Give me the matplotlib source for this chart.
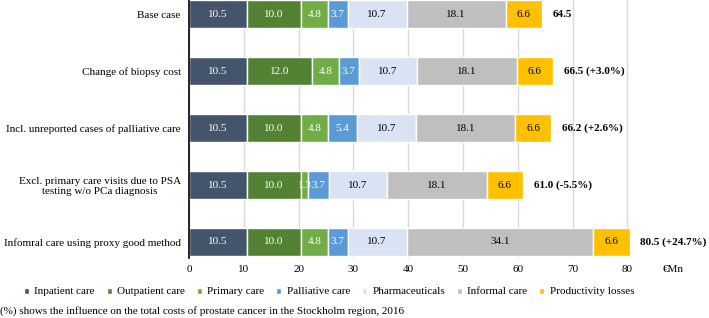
import matplotlib
matplotlib.use("Agg")
import matplotlib.pyplot as plt
import numpy as np

plt.rcParams['font.family'] = ['Liberation Serif', 'DejaVu Serif']

scenarios = [
    "Base case",
    "Change of biopsy cost",
    "Incl. unreported cases of palliative care",
    "Excl. primary care visits due to PSA\ntesting w/o PCa diagnosis",
    "Infomral care using proxy good method",
]
categories = ["Inpatient care", "Outpatient care", "Primary care", "Palliative care",
              "Pharmaceuticals", "Informal care", "Productivity losses"]
inpatient = [10.5, 10.5, 10.5, 10.5, 10.5]
outpatient = [10.0, 12.0, 10.0, 10.0, 10.0]
primary = [4.8, 4.8, 4.8, 1.3, 4.8]
palliative = [3.7, 3.7, 5.4, 3.7, 3.7]
pharma = [10.7, 10.7, 10.7, 10.7, 10.7]
informal = [18.1, 18.1, 18.1, 18.1, 34.1]
productivity = [6.6, 6.6, 6.6, 6.6, 6.6]
totals = ["64.5", "66.5 (+3.0%)", "66.2 (+2.6%)", "61.0 (-5.5%)", "80.5 (+24.7%)"]

colors = ['#44546A', '#548235', '#70AD47', '#5B9BD5', '#DAE3F3', '#BFBFBF', '#FFC000']
text_colors = ['white', 'white', 'white', 'white', 'black', 'black', 'black']

series = [inpatient, outpatient, primary, palliative, pharma, informal, productivity]

fig = plt.figure(figsize=(7.09, 3.18), dpi=100)
ax = fig.add_axes([0.2666, 0.189, 0.68, 0.811])

y = np.arange(len(scenarios))
left = np.zeros(len(scenarios))
for vals, col, tc, name in zip(series, colors, text_colors, categories):
    vals = np.array(vals)
    ax.barh(y, vals, left=left, height=0.49, color=col, edgecolor='white',
            linewidth=1, label=name, zorder=3)
    for yi, (l, v) in enumerate(zip(left, vals)):
        ax.text(l + v / 2, yi, f"{v:.1f}", ha='center', va='center',
                color=tc, fontsize=8, zorder=4)
    left = left + vals

# totals next to each bar
for yi, (end, t) in enumerate(zip(left, totals)):
    ax.text(end + 2, yi, t, ha='left', va='center', fontsize=8,
            fontweight='bold', color='black')

ax.set_yticks(y)
ax.set_yticklabels(scenarios, fontsize=8, multialignment='center')
ax.set_ylim(4.28, -0.25)
ax.set_xlim(0, 88)
ax.set_xticks(range(0, 81, 10))
ax.tick_params(axis='x', labelsize=8, length=0, pad=5)
ax.tick_params(axis='y', length=0, pad=6)
ax.grid(axis='x', color='#D9D9D9', linewidth=1, zorder=0)
for s in ['top', 'right', 'bottom']:
    ax.spines[s].set_visible(False)
ax.spines['left'].set_color('black')
ax.spines['left'].set_linewidth(1.2)
ax.spines['left'].set_zorder(5)

fig.text(663 / 709, 1 - 269 / 318, "€Mn", ha='left', va='center', fontsize=8)

handles, labels = ax.get_legend_handles_labels()
fig.legend(handles, labels, loc='center', bbox_to_anchor=(0.464, 1 - 292 / 318), ncol=7,
           frameon=False, fontsize=8, handlelength=0.45, handleheight=0.45,
           handletextpad=0.5, columnspacing=1.05)

fig.text(0.0, 1 - 311 / 318, "(%) shows the influence on the total costs of prostate cancer in the Stockholm region, 2016",
         ha='left', va='center', fontsize=8)

fig.savefig("out.png", dpi=100)
